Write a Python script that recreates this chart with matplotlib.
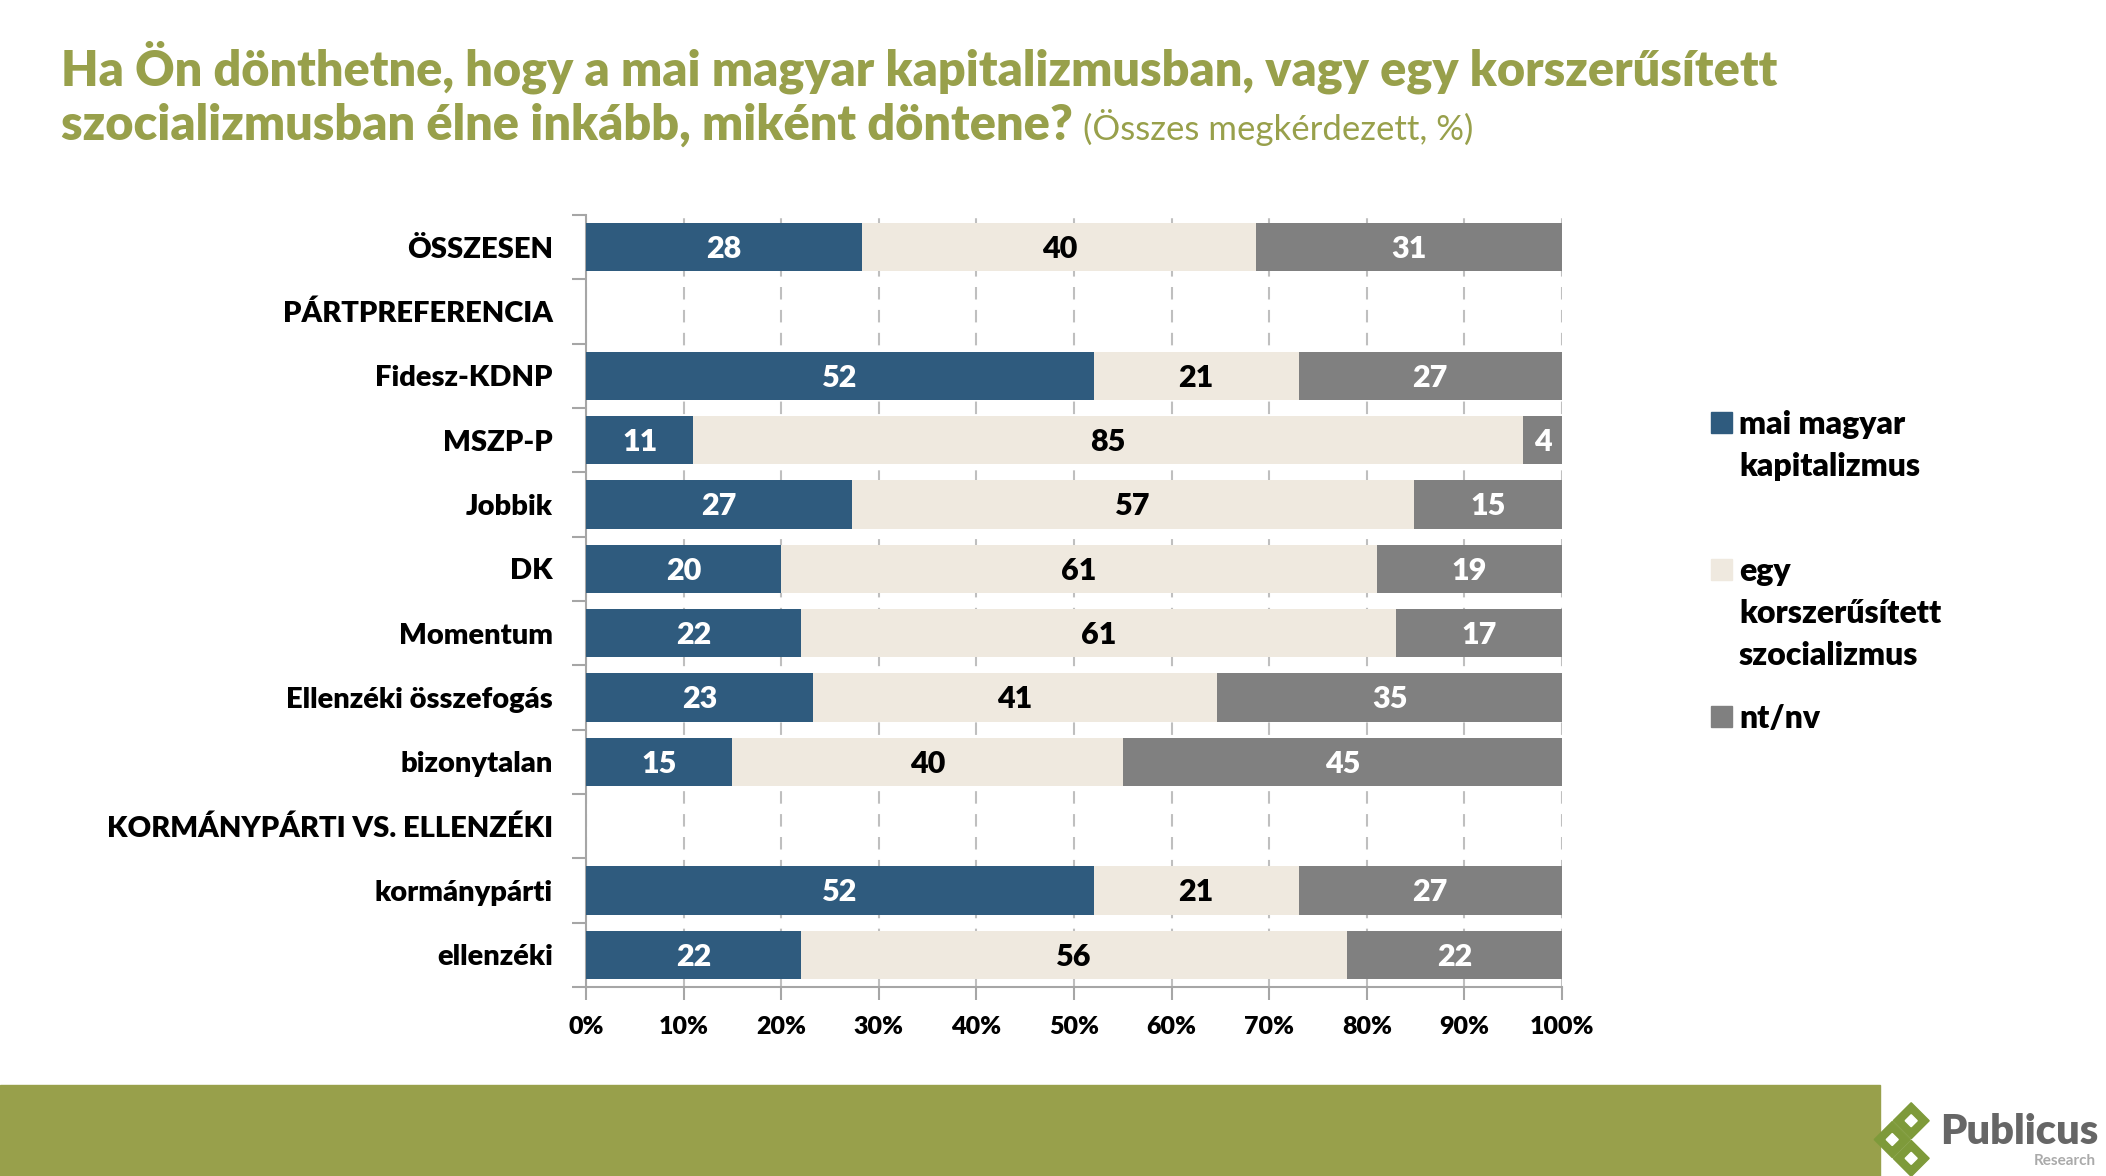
import matplotlib.pyplot as plt
import matplotlib.patches as mpatches
import numpy as np

plt.rcParams['font.family'] = ['Lato', 'DejaVu Sans']

# data
categories = ['ÖSSZESEN', 'PÁRTPREFERENCIA', 'Fidesz-KDNP', 'MSZP-P', 'Jobbik', 'DK',
              'Momentum', 'Ellenzéki összefogás', 'bizonytalan',
              'KORMÁNYPÁRTI VS. ELLENZÉKI', 'kormánypárti', 'ellenzéki']
kapitalizmus = [28, None, 52, 11, 27, 20, 22, 23, 15, None, 52, 22]
szocializmus = [40, None, 21, 85, 57, 61, 61, 41, 40, None, 21, 56]
ntnv = [31, None, 27, 4, 15, 19, 17, 35, 45, None, 27, 22]
series_names = ['mai magyar\nkapitalizmus', 'egy\nkorszerűsített\nszocializmus', 'nt/nv']
colors = ['#2F5B7E', '#EFE9DF', '#808080']
label_colors = ['white', 'black', 'white']
xticks = np.arange(0, 101, 10)

GREEN = '#98A04B'
W, H = 2106, 1176

fig = plt.figure(figsize=(21.06, 11.76), dpi=100)
ax = fig.add_axes([0.2783, 0.1607, 0.4634, 0.6565])

y = np.arange(len(categories))
series = [kapitalizmus, szocializmus, ntnv]
for i in y:
    if kapitalizmus[i] is None:
        continue
    vals = [s[i] for s in series]
    total = sum(vals)
    left = 0
    for j, v in enumerate(vals):
        w = v / total * 100
        ax.barh(i, w, left=left, height=0.75, color=colors[j], zorder=3)
        ax.text(left + w / 2, i + 0.03, str(v), ha='center', va='center', fontsize=22,
                fontweight='heavy', color=label_colors[j], zorder=4)
        left += w

ax.set_xlim(0, 100)
ax.set_ylim(len(categories) - 0.5, -0.5)
ax.set_yticks(y)
ax.set_yticklabels(categories, fontsize=21, fontweight='heavy')
ax.set_yticks(np.arange(-0.5, len(categories), 1), minor=True)
ax.tick_params(axis='y', which='major', length=0, pad=24)
ax.tick_params(axis='y', which='minor', length=10, width=1.5, color='#A6A6A6')
ax.set_xticks(xticks)
ax.set_xticklabels([f'{t}%' for t in xticks], fontsize=18, fontweight='heavy')
ax.tick_params(axis='x', length=9, width=1.5, color='#A6A6A6', pad=12)
ax.grid(axis='x', color='#BFBFBF', linestyle=(0, (6, 5)), linewidth=1.5, zorder=0)
for s in ['top', 'right']:
    ax.spines[s].set_visible(False)
for s in ['left', 'bottom']:
    ax.spines[s].set_color('#A6A6A6')
    ax.spines[s].set_linewidth(1.5)

# legend, drawn by hand to keep the uneven spacing of the original
legend_top = [422, 569, 716]
line_gap = 42
for name, c, ytop in zip(series_names, colors, legend_top):
    fig.patches.append(mpatches.Rectangle((1711, H - ytop - 11), 21, 21, transform=None,
                                          color=c))
    for k, line in enumerate(name.split('\n')):
        fig.text(1739 / W, 1 - (ytop + k * line_gap) / H, line, fontsize=23,
                 fontweight='heavy', va='center_baseline', ha='left')

# title
t1 = fig.text(0.029, 0.943, 'Ha Ön dönthetne, hogy a mai magyar kapitalizmusban, vagy egy korszerűsített',
              fontsize=35, fontweight='heavy', color=GREEN, va='center')
t2 = fig.text(0.029, 0.894, 'szocializmusban élne inkább, miként döntene?',
              fontsize=35, fontweight='heavy', color=GREEN, va='center')
fig.canvas.draw()
bb = t2.get_window_extent()
fig.text((bb.x1 + 10) / fig.bbox.width, 0.892, '(Összes megkérdezett, %)',
         fontsize=25, color=GREEN, va='center')

# footer band and logo
fig.patches.append(mpatches.Rectangle((0, 0), 0.8927, 0.0774, transform=fig.transFigure,
                                      color=GREEN, zorder=0))
for cx, cy in [(0.9075, 0.047), (0.8985, 0.031), (0.9075, 0.015)]:
    fig.patches.append(mpatches.RegularPolygon((cx * W, cy * H), 4, radius=18,
                                               transform=None, color='#7E9A3A'))
    fig.patches.append(mpatches.RegularPolygon((cx * W, cy * H), 4, radius=6,
                                               transform=None, color='white'))
fig.text(0.921, 0.037, 'Publicus', fontsize=30, fontweight='heavy', color='#666666', va='center')
fig.text(0.995, 0.013, 'Research', fontsize=11, fontweight='bold', color='#AAAAAA',
         va='center', ha='right')

fig.savefig('out.png', dpi=100)
